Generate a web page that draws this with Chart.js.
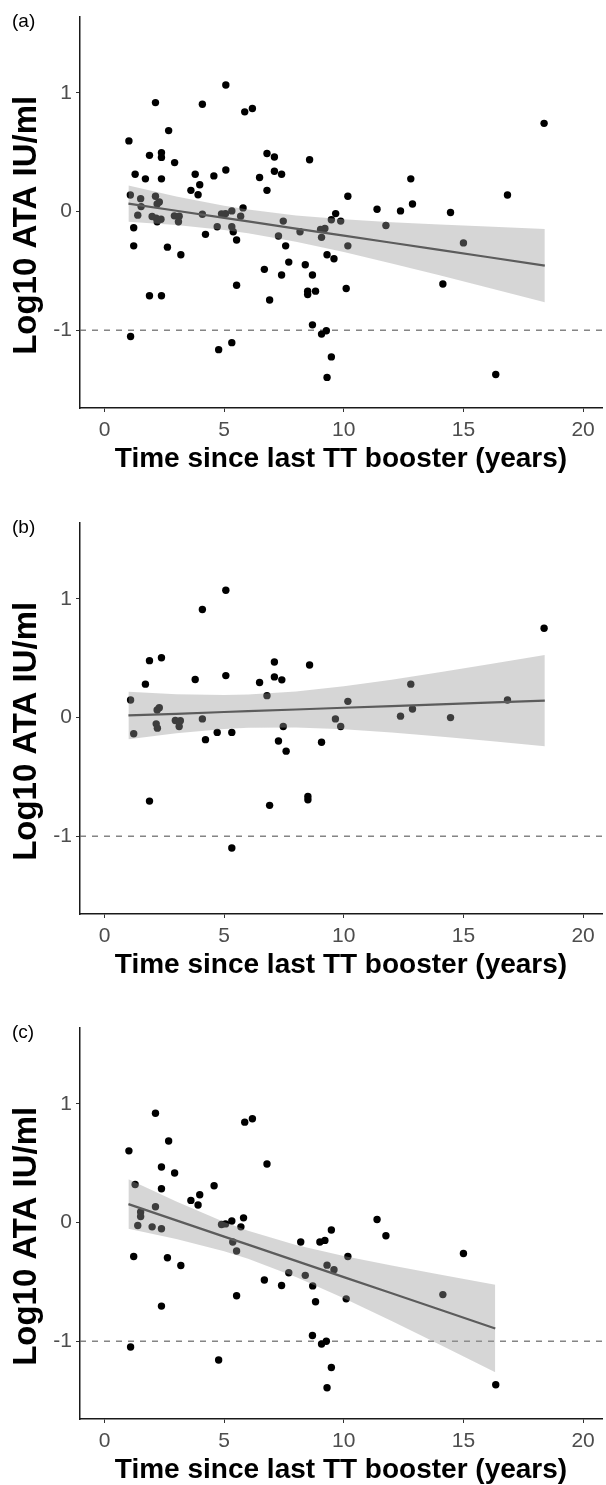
<!DOCTYPE html>
<html>
<head>
<meta charset="utf-8">
<script src="https://cdn.jsdelivr.net/npm/chart.js@4.4.1/dist/chart.umd.min.js"></script>
<style>
  html, body { margin: 0; padding: 0; background: #fff; }
  body { width: 606px; height: 1485px; overflow: hidden; position: relative; }
  .panel { position: absolute; left: 0; width: 606px; height: 505px; }
  .panel canvas { position: absolute; left: 0; top: 0; }
  .lab { position: absolute; left: 12px; top: 11px; font: 19px/19px "Liberation Sans", Arial, sans-serif; color: #000; }
</style>
</head>
<body>
<div class="panel" style="top:0px"><canvas id="ca" width="606" height="505"></canvas><div class="lab" id="la"></div></div>
<div class="panel" style="top:506px"><canvas id="cb" width="606" height="505"></canvas><div class="lab" id="lb"></div></div>
<div class="panel" style="top:1011px"><canvas id="cc" width="606" height="505"></canvas><div class="lab" id="lc"></div></div>
<script>
// ---------- labels ----------
const panelLabels = ['(a)', '(b)', '(c)'];
const xTitle = 'Time since last TT booster (years)';
const yTitle = 'Log10 ATA IU/ml';
const xTicks = [0, 5, 10, 15, 20];
const yTicks = [-1, 0, 1];
const refLevel = -1;
const xRange = [-1.024, 20.79];
const yRange = [-1.656, 1.644];

// ---------- panel (a): all ----------
const aTime = [5.07, 2.13, 4.09, 5.86, 6.18, 2.68, 1.02, 1.88, 2.38, 2.38, 2.93, 6.79, 7.10, 8.57, 1.28, 1.71, 2.38, 3.79, 4.57, 5.07,
  6.48, 7.10, 7.40, 3.61, 3.98, 3.91, 6.79, 1.08, 1.51, 1.53, 2.13, 2.29, 2.20, 1.39, 1.99, 2.16, 2.20, 2.36, 2.92, 3.12,
  3.09, 4.09, 4.89, 5.06, 5.32, 5.79, 5.69, 7.47, 1.22, 4.71, 5.32, 9.03, 9.21, 9.48, 9.66, 5.38, 4.22, 5.52, 1.22, 2.63,
  3.19, 7.27, 7.57, 8.17, 9.07, 9.30, 9.59, 7.70, 8.39, 6.68, 7.40, 8.69, 5.52, 8.49, 8.49, 8.82, 1.88, 2.38, 6.90, 8.69,
  9.27, 9.07, 1.09, 5.32, 4.77, 9.48, 9.30, 18.37, 12.80, 10.17, 16.84, 11.39, 12.37, 12.87, 14.46, 9.87, 11.76, 10.17, 15.00, 10.10,
  14.14, 16.35];
const aLog = [1.067, 0.919, 0.905, 0.841, 0.869, 0.683, 0.596, 0.474, 0.496, 0.457, 0.413, 0.490, 0.460, 0.437, 0.315, 0.276, 0.276, 0.315, 0.301, 0.351,
  0.287, 0.340, 0.315, 0.179, 0.226, 0.142, 0.179, 0.140, 0.109, 0.042, 0.129, 0.081, 0.064, -0.030, -0.042, -0.055, -0.086, -0.064, -0.036, -0.039,
  -0.086, -0.022, -0.019, -0.017, 0.006, 0.031, -0.039, -0.080, -0.136, -0.128, -0.128, -0.150, -0.142, -0.069, -0.017, -0.170, -0.192, -0.239, -0.289, -0.300,
  -0.364, -0.206, -0.289, -0.170, -0.217, -0.364, -0.398, -0.426, -0.448, -0.487, -0.535, -0.535, -0.621, -0.671, -0.699, -0.671, -0.710, -0.710, -0.746, -0.955,
  -1.005, -1.033, -1.053, -1.105, -1.164, -1.225, -1.398, 0.744, 0.276, 0.129, 0.140, 0.020, 0.006, 0.064, -0.008, -0.080, -0.117, -0.289, -0.264, -0.648,
  -0.610, -1.373];
const aFitTime = [1.0, 3, 5, 6, 8, 10, 12, 14, 16, 18.4];
const aFit = [0.067, 0.007, -0.053, -0.083, -0.143, -0.203, -0.263, -0.323, -0.383, -0.455];
const aUpper = [0.220, 0.128, 0.049, 0.017, -0.032, -0.065, -0.089, -0.109, -0.126, -0.146];
const aLower = [-0.086, -0.114, -0.155, -0.183, -0.254, -0.341, -0.437, -0.537, -0.640, -0.764];

// ---------- panel (b) ----------
const bTime = [5.07, 4.09, 1.88, 2.38, 7.10, 8.57, 1.71, 3.79, 5.07, 6.48, 7.10, 7.41, 6.79, 1.09, 2.20, 2.29, 2.16, 2.21, 2.96, 3.17,
  3.12, 4.09, 1.22, 4.22, 4.71, 5.32, 7.47, 7.27, 7.59, 9.07, 9.65, 9.87, 1.88, 6.90, 8.50, 8.50, 5.32, 18.37, 12.80, 10.17,
  16.84, 12.37, 12.87, 14.46];
const bLog = [1.073, 0.911, 0.480, 0.505, 0.469, 0.444, 0.282, 0.321, 0.354, 0.296, 0.343, 0.318, 0.185, 0.148, 0.064, 0.084, -0.053, -0.089, -0.024, -0.027,
  -0.075, -0.011, -0.136, -0.186, -0.125, -0.125, -0.075, -0.197, -0.283, -0.208, -0.011, -0.075, -0.704, -0.740, -0.665, -0.693, -1.100, 0.753, 0.282, 0.137,
  0.148, 0.012, 0.073, 0.000];
const bFitTime = [1.0, 3, 5, 6, 8, 10, 12, 14, 16, 18.4];
const bFit = [0.018, 0.032, 0.047, 0.054, 0.068, 0.083, 0.097, 0.111, 0.126, 0.143];
const bUpper = [0.218, 0.196, 0.190, 0.194, 0.220, 0.265, 0.320, 0.382, 0.447, 0.528];
const bLower = [-0.182, -0.132, -0.096, -0.086, -0.084, -0.099, -0.126, -0.160, -0.195, -0.242];

// ---------- panel (c) ----------
const cTime = [2.13, 5.86, 6.18, 2.68, 1.02, 6.79, 2.38, 2.93, 1.28, 2.38, 4.58, 3.61, 3.98, 3.91, 2.13, 1.51, 1.51, 1.39, 1.99, 2.38,
  4.89, 5.06, 5.32, 5.81, 5.70, 9.48, 5.36, 5.52, 8.20, 9.00, 9.21, 1.22, 2.63, 3.19, 9.30, 9.59, 7.70, 8.39, 6.68, 7.40,
  8.70, 5.52, 8.82, 2.38, 8.69, 9.27, 9.07, 1.09, 4.77, 9.48, 9.30, 11.39, 11.76, 15.00, 10.17, 10.10, 14.14, 16.35];
const cLog = [0.922, 0.847, 0.875, 0.688, 0.605, 0.494, 0.469, 0.418, 0.321, 0.285, 0.310, 0.187, 0.235, 0.148, 0.134, 0.090, 0.051, -0.024, -0.036, -0.052,
  -0.016, -0.011, 0.014, 0.040, -0.036, -0.062, -0.164, -0.239, -0.164, -0.164, -0.150, -0.286, -0.297, -0.362, -0.359, -0.398, -0.423, -0.445, -0.484, -0.531,
  -0.534, -0.617, -0.668, -0.704, -0.952, -1.000, -1.024, -1.049, -1.158, -1.222, -1.392, 0.026, -0.111, -0.261, -0.286, -0.643, -0.607, -1.367];
const cFitTime = [1.0, 3, 5, 6, 8, 10, 12, 14, 16.33];
const cFit = [0.156, 0.019, -0.118, -0.186, -0.323, -0.460, -0.596, -0.733, -0.893];
const cUpper = [0.365, 0.177, 0.005, -0.068, -0.188, -0.282, -0.362, -0.438, -0.524];
const cLower = [-0.053, -0.139, -0.241, -0.304, -0.458, -0.638, -0.830, -1.028, -1.262];

// ---------- drawing ----------
const FONT = '"Liberation Sans", Arial, sans-serif';
Chart.defaults.font.family = FONT;
const pts = (xs, ys) => xs.map((x, i) => ({ x: x, y: ys[i] }));

// y-axis title, drawn rotated beside the axis (centred a little below the panel middle, as in the figure)
const yTitlePlugin = {
  id: 'yTitlePlugin',
  afterDraw(chart) {
    const ctx = chart.ctx;
    const ca = chart.chartArea;
    ctx.save();
    ctx.translate(27, (ca.top + ca.bottom) / 2 + 13);
    ctx.rotate(-Math.PI / 2);
    ctx.font = 'bold 33px ' + FONT;
    ctx.fillStyle = '#000';
    ctx.textAlign = 'center';
    ctx.textBaseline = 'middle';
    ctx.fillText(yTitle, 0, 0);
    ctx.restore();
  }
};

function makePanel(canvasId, labelId, label, time, log, fitTime, fit, upper, lower) {
  document.getElementById(labelId).textContent = label;
  new Chart(document.getElementById(canvasId), {
    type: 'scatter',
    plugins: [yTitlePlugin],
    data: {
      datasets: [
        { data: pts(fitTime, fit), showLine: true, borderColor: '#5c5c5c', borderWidth: 2.2,
          pointRadius: 0, fill: false, tension: 0, order: 0 },
        { data: pts(fitTime, upper), showLine: true, borderColor: 'rgba(0,0,0,0)', borderWidth: 0,
          backgroundColor: 'rgba(153,153,153,0.4)', pointRadius: 0, fill: '+1', tension: 0, order: 1 },
        { data: pts(fitTime, lower), showLine: true, borderColor: 'rgba(0,0,0,0)', borderWidth: 0,
          pointRadius: 0, fill: false, tension: 0, order: 2 },
        { data: pts(time, log), backgroundColor: '#000', borderWidth: 0, pointRadius: 3.7, order: 3 },
        { data: pts(xRange, [refLevel, refLevel]), showLine: true, borderColor: '#666', borderWidth: 1.2,
          borderDash: [6, 6], pointRadius: 0, fill: false, order: 4 }
      ]
    },
    options: {
      responsive: false,
      animation: false,
      devicePixelRatio: 1,
      events: [],
      layout: { padding: { top: 13, right: 0, bottom: 0, left: 0 } },
      plugins: { legend: { display: false }, tooltip: { enabled: false } },
      scales: {
        x: {
          type: 'linear', min: xRange[0], max: xRange[1],
          afterBuildTicks: s => { s.ticks = xTicks.map(v => ({ value: v })); },
          afterFit: s => { s.height = 97; },
          ticks: { font: { size: 21 }, color: '#4d4d4d', padding: 6, maxRotation: 0, callback: v => String(v) },
          grid: { drawOnChartArea: false, drawTicks: true, tickLength: 4, color: '#333', lineWidth: 1 },
          border: { display: true, color: '#1a1a1a', width: 1.5 },
          title: { display: true, text: xTitle, color: '#000', font: { size: 28, weight: 'bold' }, padding: { top: 0, bottom: 28.7 } }
        },
        y: {
          type: 'linear', min: yRange[0], max: yRange[1],
          afterBuildTicks: s => { s.ticks = yTicks.map(v => ({ value: v })); },
          afterFit: s => { s.width = 80; },
          ticks: { font: { size: 21 }, color: '#4d4d4d', padding: 4, callback: v => String(v) },
          grid: { drawOnChartArea: false, drawTicks: true, tickLength: 4, color: '#333', lineWidth: 1 },
          border: { display: true, color: '#1a1a1a', width: 1.5 },
          title: { display: false }
        }
      }
    }
  });
}

makePanel('ca', 'la', panelLabels[0], aTime, aLog, aFitTime, aFit, aUpper, aLower);
makePanel('cb', 'lb', panelLabels[1], bTime, bLog, bFitTime, bFit, bUpper, bLower);
makePanel('cc', 'lc', panelLabels[2], cTime, cLog, cFitTime, cFit, cUpper, cLower);
</script>
</body>
</html>
